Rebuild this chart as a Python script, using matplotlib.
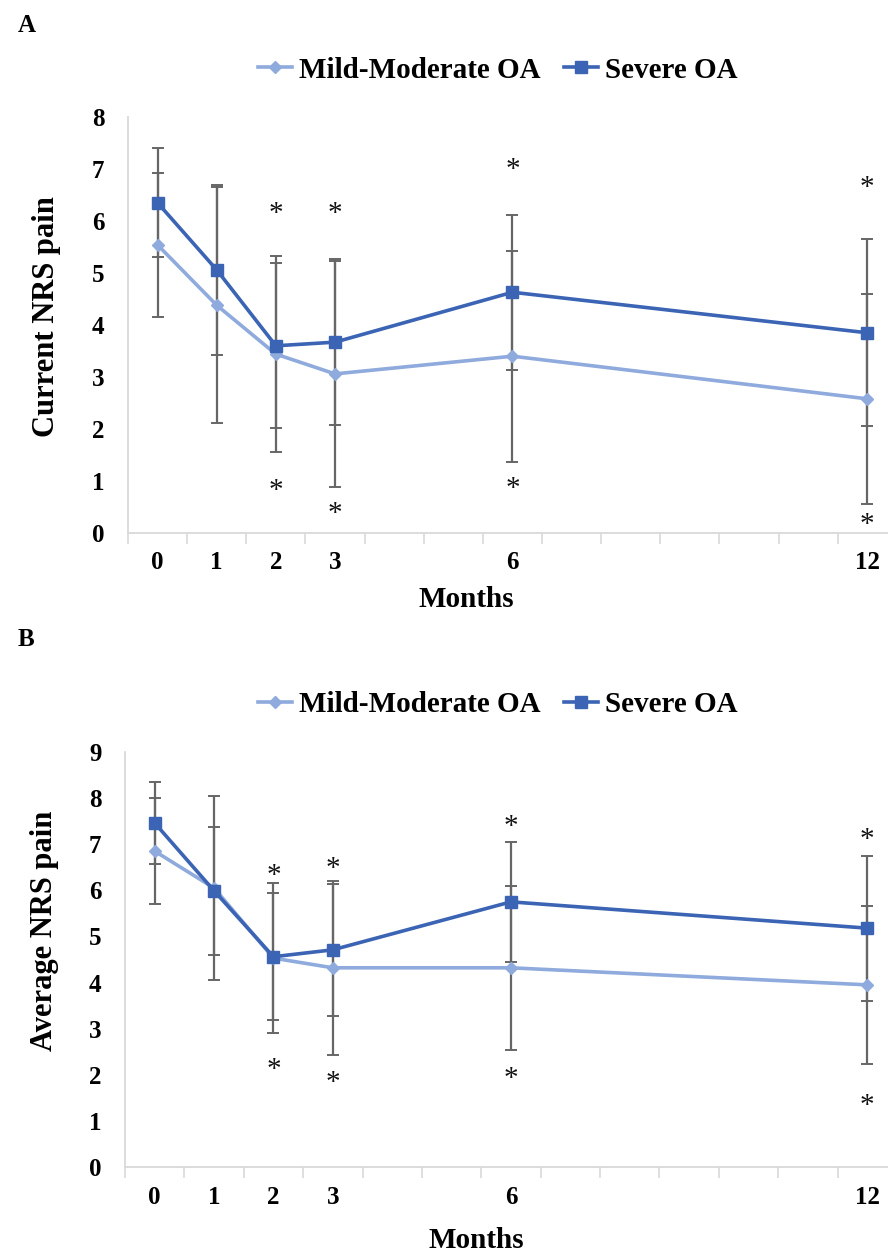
import matplotlib.pyplot as plt
import numpy as np

plt.rcParams['font.family'] = 'Liberation Serif'
plt.rcParams['font.weight'] = 'bold'

months = [0, 1, 2, 3, 6, 12]
month_labels = ['0', '1', '2', '3', '6', '12']

# panel A - current NRS pain
cur_mild = [5.54, 4.38, 3.44, 3.06, 3.40, 2.58]
cur_mild_sd = [1.38, 2.27, 1.89, 2.17, 2.03, 2.02]
cur_severe = [6.35, 5.06, 3.60, 3.67, 4.63, 3.85]
cur_severe_sd = [1.05, 1.63, 1.59, 1.60, 1.49, 1.80]
cur_star_months = [2, 3, 6, 12]
cur_star_top = [6.29, 6.29, 7.15, 6.79]
cur_star_bottom = [0.96, 0.52, 1.00, 0.31]

# panel B - average NRS pain
avg_mild = [6.85, 6.05, 4.53, 4.32, 4.32, 3.95]
avg_mild_sd = [1.15, 2.00, 1.63, 1.89, 1.78, 1.71]
avg_severe = [7.46, 5.99, 4.56, 4.71, 5.75, 5.18]
avg_severe_sd = [0.89, 1.39, 1.38, 1.43, 1.30, 1.57]
avg_star_months = [2, 3, 6, 12]
avg_star_top = [6.50, 6.64, 7.55, 7.27]
avg_star_bottom = [2.28, 2.00, 2.08, 1.50]

c_mild = '#8FAADC'
c_severe = '#3B64B4'
c_err = '#666666'
c_axis = '#D9D9D9'

W, H = 888, 1257
fig = plt.figure(figsize=(W / 100, H / 100), dpi=100)


def panel(rect, mild, mild_sd, severe, severe_sd, star_m, star_top, star_bot,
          ymax, ylabel, ylab_pos, xlab_pos, legend_y, xpad):
    ax = fig.add_axes(rect)
    ax.errorbar(months, mild, yerr=mild_sd, fmt='none', ecolor=c_err,
                elinewidth=1.6, capsize=4, capthick=1.4, zorder=1)
    ax.errorbar(months, severe, yerr=severe_sd, fmt='none', ecolor=c_err,
                elinewidth=1.6, capsize=4, capthick=1.4, zorder=1)
    ax.plot(months, mild, color=c_mild, lw=2.6, marker='D', ms=6.5,
            label='Mild-Moderate OA', zorder=2)
    ax.plot(months, severe, color=c_severe, lw=2.6, marker='s', ms=8,
            label='Severe OA', zorder=3)
    # significance stars (glyph sits high in the box, so nudge down)
    for m, yt, yb in zip(star_m, star_top, star_bot):
        for yv in (yt, yb):
            ax.annotate('*', (m, yv), xytext=(0, -6), textcoords='offset points',
                        ha='center', va='center', fontsize=21,
                        fontweight='normal', color='#111111')

    ax.set_xlim(-0.5, 12.35)
    ax.set_ylim(0, ymax)
    ax.set_yticks(range(0, ymax + 1))
    ax.set_xticks(months)
    ax.set_xticklabels(month_labels)
    ax.set_xticks(np.arange(-0.5, 12.4, 1), minor=True)
    ax.tick_params(axis='x', which='major', length=0, labelsize=18, pad=xpad)
    ax.tick_params(axis='x', which='minor', length=8, width=1.2,
                   color=c_axis, direction='out')
    ax.tick_params(axis='y', length=0, labelsize=18, pad=17)
    for s in ['top', 'right']:
        ax.spines[s].set_visible(False)
    for s in ['left', 'bottom']:
        ax.spines[s].set_color(c_axis)
        ax.spines[s].set_linewidth(1.3)

    ax.set_ylabel(ylabel, fontsize=22, fontweight='bold')
    ax.yaxis.label.set_va('center')
    ax.yaxis.set_label_coords(*ylab_pos)
    ax.set_xlabel('Months', fontsize=21, fontweight='bold')
    ax.xaxis.label.set_va('center')
    ax.xaxis.set_label_coords(*xlab_pos)

    fig.legend(*ax.get_legend_handles_labels(), loc='center',
               bbox_to_anchor=(498 / W, legend_y), ncol=2, frameon=False,
               fontsize=21, handlelength=1.15, handletextpad=0.25,
               columnspacing=0.8)
    return ax


axA = panel([128 / W, 1 - 533 / H, 1 - 128 / W, (533 - 117) / H],
            cur_mild, cur_mild_sd, cur_severe, cur_severe_sd,
            cur_star_months, cur_star_top, cur_star_bottom,
            8, 'Current NRS pain', (-0.107, 0.52), (0.445, -0.161),
            1 - 70 / H, 13)

axB = panel([125 / W, 1 - 1167 / H, 1 - 125 / W, (1167 - 752) / H],
            avg_mild, avg_mild_sd, avg_severe, avg_severe_sd,
            avg_star_months, avg_star_top, avg_star_bottom,
            9, 'Average NRS pain', (-0.105, 0.57), (0.46, -0.176),
            1 - 705 / H, 14)

fig.text(18 / W, 1 - 25 / H, 'A', fontsize=18, fontweight='bold',
         ha='left', va='center')
fig.text(18 / W, 1 - 640 / H, 'B', fontsize=18, fontweight='bold',
         ha='left', va='center')

fig.savefig('out.png', dpi=100)
